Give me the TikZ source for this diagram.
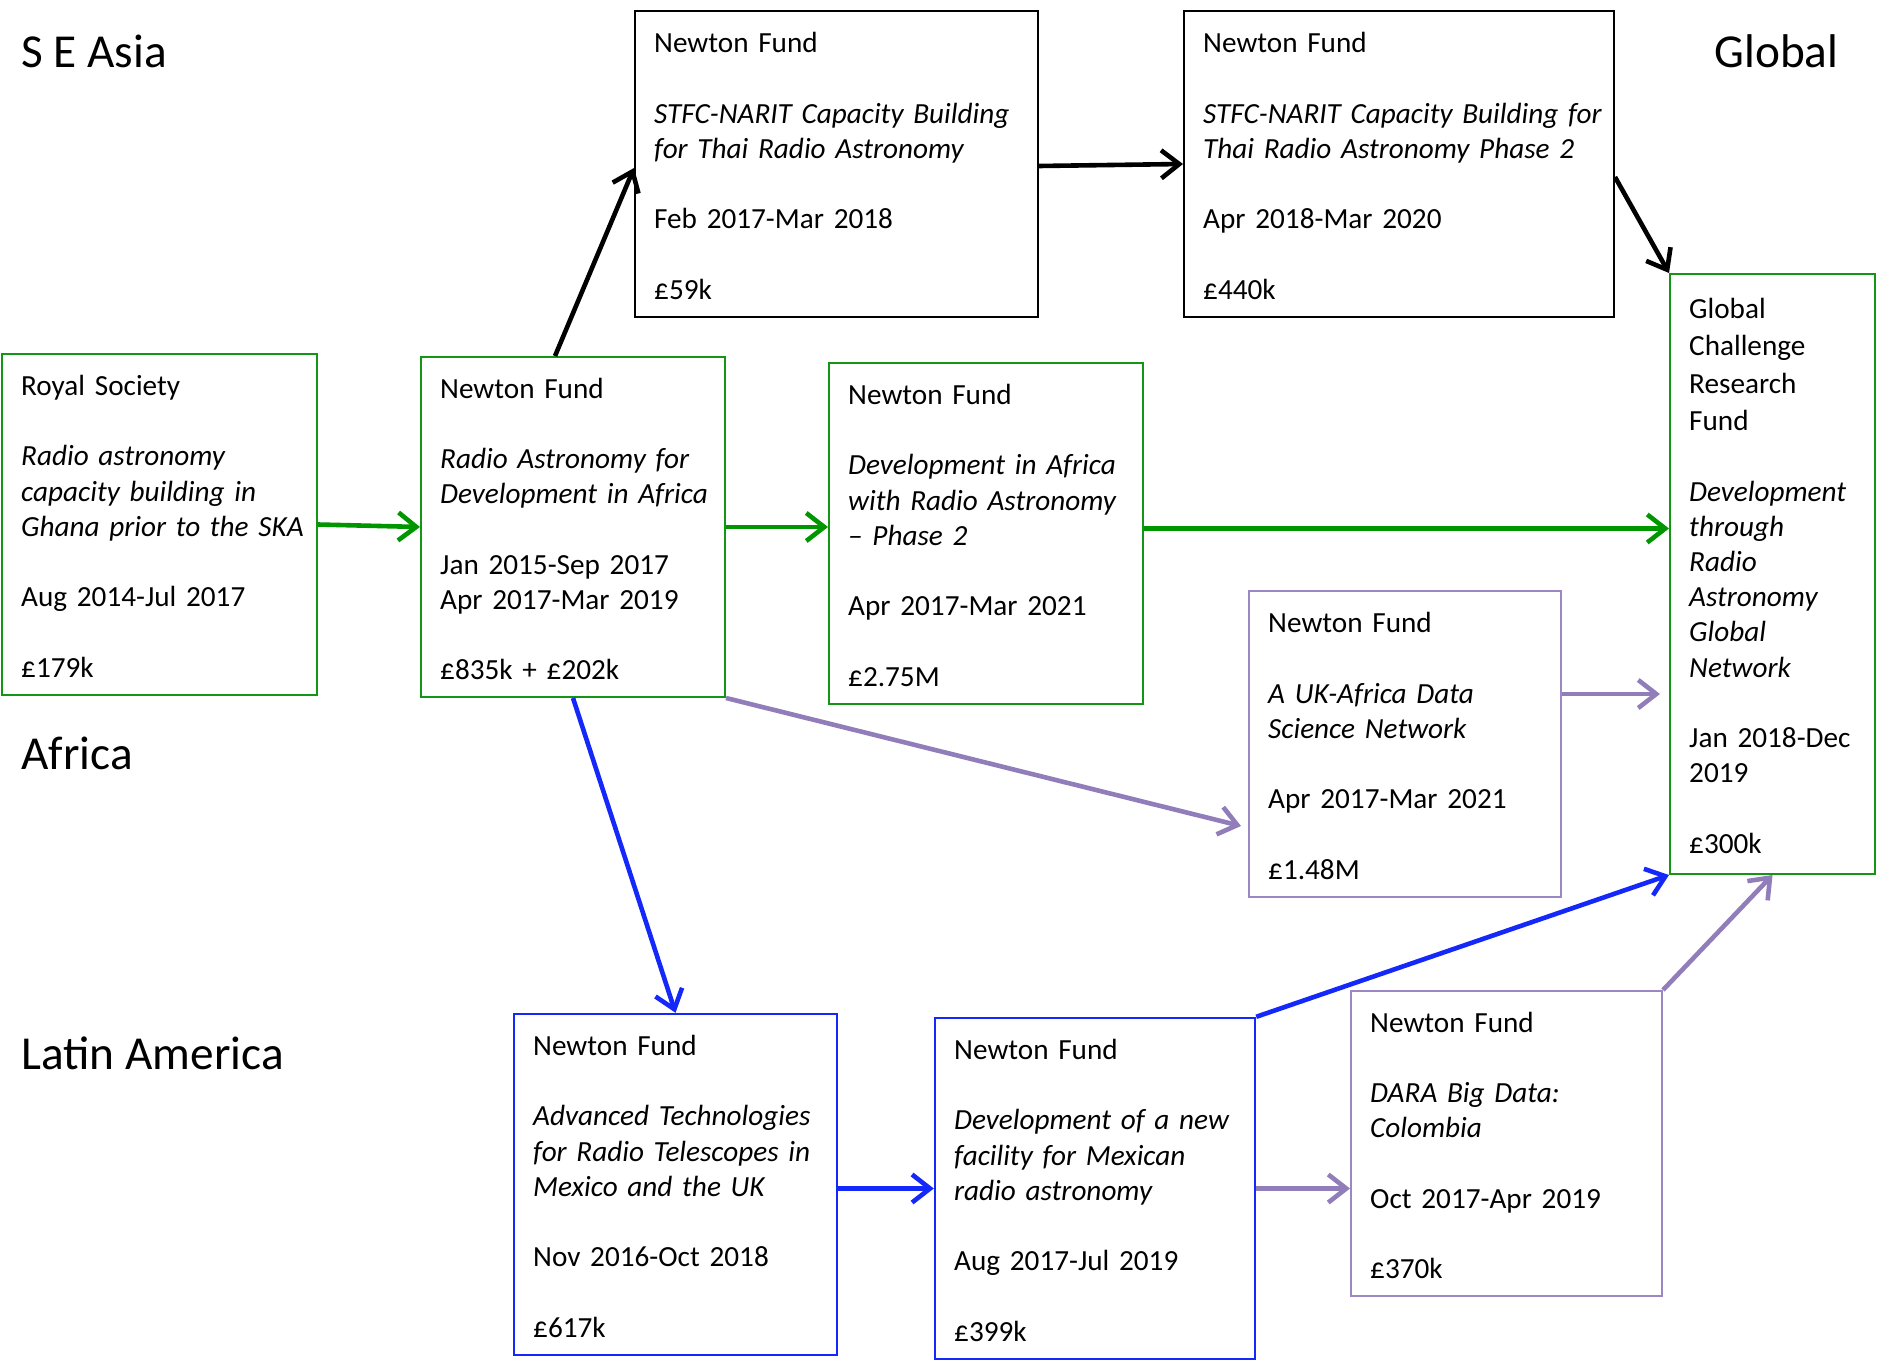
\documentclass[tikz,border=0pt]{standalone}
\usepackage{fontspec}
\setmainfont[WordSpace=0.8]{Carlito}
\newfontfamily\regionfont{Carlito}
\usetikzlibrary{arrows.meta,calc}
\definecolor{gA}{RGB}{0,150,0}
\definecolor{gB}{RGB}{20,150,20}
\definecolor{bA}{RGB}{20,40,250}
\definecolor{pA}{RGB}{145,125,185}
\definecolor{pB}{RGB}{155,135,195}
\newcommand\gp{\\[17.6pt]}
\newcommand\bt[1]{\begin{tabular}{@{}l@{}}#1\\[-4.8pt]\end{tabular}}
\tikzset{
  fundbox/.style n args={3}{draw, rectangle, line width=1pt, minimum width=#1, minimum height=#2,
    text width=#3, align=left, inner xsep=9.6pt, inner ysep=0pt,
    font=\fontsize{14.6pt}{17.6pt}\selectfont},
  region/.style={anchor=base west, inner sep=0pt, font=\regionfont\fontsize{23.65pt}{28pt}\selectfont},
  conn/.style={line width=2.3pt, -{Straight Barb[length=9pt,width=14pt]}},
  garrow/.style={conn, draw=gA},
  karrow/.style={conn, draw=black},
  barrow/.style={conn, draw=bA},
  parrow/.style={conn, draw=pA},
}
\begin{document}
\begin{tikzpicture}[x=0.5pt,y=-0.5pt]
\useasboundingbox (0,0) rectangle (1883,1369);

% region labels
\node[region] (lasia) at (21,68) {S E Asia};
\node[region] (lglobal) at (1714,68) {Global};
\node[region] (lafrica) at (21,769) {Africa};
\node[region] (llatam) at (21,1069) {Latin America};

% boxes
\node[fundbox={157.5pt}{170.5pt}{138.3pt}, draw=gB] (RS) at (159.5,524.5)
 {\bt{Royal Society\gp \textit{Radio astronomy}\\ \textit{capacity building in}\\ \textit{Ghana prior to the SKA}\gp Aug 2014-Jul 2017\gp £179k}};
\node[fundbox={152pt}{170pt}{132.8pt}, draw=gB] (RAD) at (573,527)
 {\bt{Newton Fund\gp \textit{Radio Astronomy for}\\ \textit{Development in Africa}\gp Jan 2015-Sep 2017\\ Apr 2017-Mar 2019\gp £835k + £202k}};
\node[fundbox={157pt}{170.5pt}{137.8pt}, draw=gB] (DAR) at (986,533.5)
 {\bt{Newton Fund\gp \textit{Development in Africa}\\ \textit{with Radio Astronomy}\\ \textit{– Phase 2}\gp Apr 2017-Mar 2021\gp £2.75M}};
\node[fundbox={201.5pt}{153pt}{182.3pt}, draw=black] (Thai1) at (836.5,164)
 {\bt{Newton Fund\gp \textit{STFC-NARIT Capacity Building}\\ \textit{for Thai Radio Astronomy}\gp Feb 2017-Mar 2018\gp £59k}};
\node[fundbox={215pt}{153pt}{195.8pt}, draw=black] (Thai2) at (1399,164)
 {\bt{Newton Fund\gp \textit{STFC-NARIT Capacity Building for}\\ \textit{Thai Radio Astronomy Phase 2}\gp Apr 2018-Mar 2020\gp £440k}};
\node[fundbox={102.5pt}{300pt}{83.3pt}, draw=gB] (GCRF) at (1772.5,574)
 {\bt{Global\\[1.1pt] Challenge\\[1.1pt] Research\\[1.1pt] Fund\gp \textit{Development}\\ \textit{through}\\ \textit{Radio}\\ \textit{Astronomy}\\ \textit{Global}\\ \textit{Network}\gp Jan 2018-Dec\\ 2019\gp £300k}};
\node[fundbox={156pt}{153pt}{136.8pt}, draw=pB] (UK) at (1405,744)
 {\bt{Newton Fund\gp \textit{A UK-Africa Data}\\ \textit{Science Network}\gp Apr 2017-Mar 2021\gp £1.48M}};
\node[fundbox={161.5pt}{170.5pt}{142.3pt}, draw=bA, line width=1.2pt] (Mex1) at (675.5,1184.5)
 {\bt{Newton Fund\gp \textit{Advanced Technologies}\\ \textit{for Radio Telescopes in}\\ \textit{Mexico and the UK}\gp Nov 2016-Oct 2018\gp £617k}};
\node[fundbox={160pt}{170.5pt}{140.8pt}, draw=bA, line width=1.2pt] (Mex2) at (1095,1188.5)
 {\bt{Newton Fund\gp \textit{Development of a new}\\ \textit{facility for Mexican}\\ \textit{radio astronomy}\gp Aug 2017-Jul 2019\gp £399k}};
\node[fundbox={155.5pt}{152.5pt}{136.3pt}, draw=pB] (DARA) at (1506.5,1143.5)
 {\bt{Newton Fund\gp \textit{DARA Big Data:}\\ \textit{Colombia}\gp Oct 2017-Apr 2019\gp £370k}};

% connectors
\draw[garrow] (RS.east) -- (RAD.west);
\draw[garrow] (RAD.east) -- (RAD.east -| DAR.west);
\draw[garrow] ($(DAR.east)+(0,-5)$) -- ($(DAR.east -| GCRF.west)+(0,-5)$);
\draw[karrow] ($(RAD.north)+(-18,0)$) -- ($(Thai1.west)+(0,4)$);
\draw[karrow] ($(Thai1.east)+(0,2)$) -- (Thai2.west);
\draw[karrow] ($(Thai2.east)+(0,13)$) -- (GCRF.north west);
\draw[parrow] (RAD.south east) -- ($(UK.west)+(-7,82)$);
\draw[parrow] ($(UK.north east)+(0,104)$) -- ($(GCRF.west |- UK.north east)+(-9,104)$);
\draw[barrow] (RAD.south) -- (Mex1.north);
\draw[barrow] ($(Mex1.east)+(0,4)$) -- ($(Mex1.east -| Mex2.west)+(0,4)$);
\draw[barrow] (Mex2.north east) -- (GCRF.south west);
\draw[parrow] (Mex2.east) -- (Mex2.east -| DARA.west);
\draw[parrow] (DARA.north east) -- (GCRF.south);
\end{tikzpicture}
\end{document}
